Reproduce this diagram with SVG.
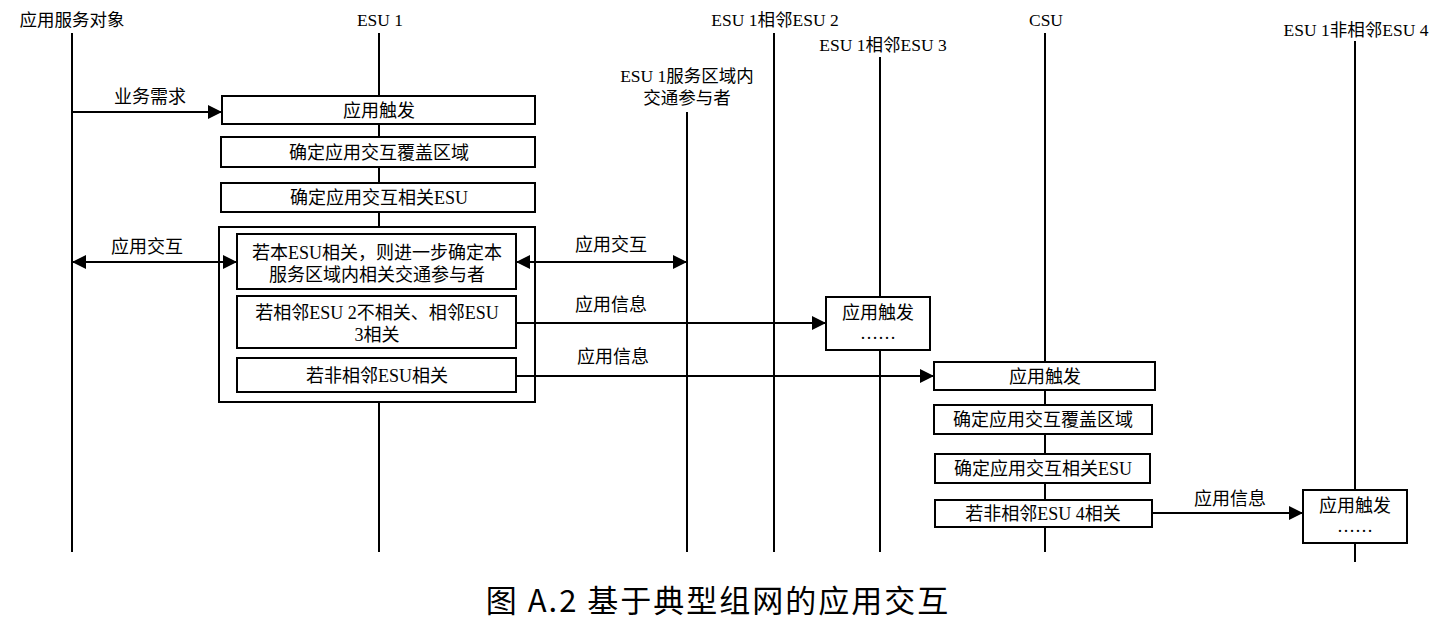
<svg xmlns="http://www.w3.org/2000/svg" width="1437" height="628" viewBox="0 0 1437 628">
<style>
text{font-family:"Liberation Serif","Noto Sans CJK SC",serif;font-size:18px;fill:#000;text-anchor:middle}
.hd{font-size:17.5px}
.box{fill:#fff;stroke:#000;stroke-width:2}
.life{stroke:#000;stroke-width:2;fill:none}
.msg{stroke:#000;stroke-width:2;fill:none}
.title{font-family:"Noto Sans CJK SC","Liberation Sans",sans-serif;font-size:31px;font-weight:normal;letter-spacing:2px}
</style>
<defs>
<marker id="ah" viewBox="0 0 10 10" refX="10" refY="5" markerUnits="userSpaceOnUse" markerWidth="18" markerHeight="14" orient="auto-start-reverse">
<path d="M0,0 L10,5 L0,10 z" fill="#000"/>
</marker>
</defs>
<rect width="1437" height="628" fill="#fff"/>
<g id="lifelines">
<g id="obj"><text class="hd" x="72" y="26">应用服务对象</text><line class="life" x1="72" y1="33" x2="72" y2="552"/></g>
<g id="esu1"><text class="hd" x="380" y="26">ESU 1</text><line class="life" x1="379" y1="33" x2="379" y2="552"/></g>
<g id="part"><text class="hd" x="687" y="82">ESU 1服务区域内</text><text class="hd" x="687" y="104">交通参与者</text><line class="life" x1="687" y1="112" x2="687" y2="552"/></g>
<g id="esu2"><text class="hd" x="775" y="26">ESU 1相邻ESU 2</text><line class="life" x1="774" y1="33" x2="774" y2="552"/></g>
<g id="esu3"><text class="hd" x="883" y="51">ESU 1相邻ESU 3</text><line class="life" x1="880" y1="57" x2="880" y2="552"/></g>
<g id="csu"><text class="hd" x="1046" y="26">CSU</text><line class="life" x1="1045" y1="33" x2="1045" y2="552"/></g>
<g id="esu4"><text class="hd" x="1356" y="36">ESU 1非相邻ESU 4</text><line class="life" x1="1355" y1="41" x2="1355" y2="562"/></g>
</g>
<g id="esu1-steps">
<g id="s1"><rect class="box" x="222" y="96" width="313" height="28"/><text x="379" y="117">应用触发</text></g>
<g id="s2"><rect class="box" x="221" y="137" width="314" height="30"/><text x="379" y="159">确定应用交互覆盖区域</text></g>
<g id="s3"><rect class="box" x="221" y="183" width="314" height="29"/><text x="379" y="204">确定应用交互相关ESU</text></g>
<g id="s4"><rect class="box" x="219" y="227" width="316" height="175"/>
<rect class="box" x="237" y="234" width="279" height="55"/><text x="377" y="259">若本ESU相关，则进一步确定本</text><text x="377" y="281">服务区域内相关交通参与者</text>
<rect class="box" x="237" y="296" width="279" height="52"/><text x="377" y="319">若相邻ESU 2不相关、相邻ESU</text><text x="377" y="341">3相关</text>
<rect class="box" x="237" y="358" width="279" height="34"/><text x="377" y="382">若非相邻ESU相关</text>
</g>
</g>
<g id="esu3-box"><rect class="box" x="826" y="297" width="104" height="53"/><text x="878" y="319">应用触发</text><text x="878" y="339">……</text></g>
<g id="csu-steps">
<g id="c1"><rect class="box" x="934" y="362" width="221" height="28"/><text x="1045" y="383">应用触发</text></g>
<g id="c2"><rect class="box" x="934" y="405" width="218" height="29"/><text x="1043" y="426">确定应用交互覆盖区域</text></g>
<g id="c3"><rect class="box" x="935" y="454" width="215" height="29"/><text x="1043" y="475">确定应用交互相关ESU</text></g>
<g id="c4"><rect class="box" x="935" y="500" width="217" height="27"/><text x="1043" y="520">若非相邻ESU 4相关</text></g>
</g>
<g id="esu4-box"><rect class="box" x="1303" y="490" width="104" height="53"/><text x="1355" y="512">应用触发</text><text x="1355" y="532">……</text></g>
<g id="connectors">
<line class="msg" x1="72" y1="112" x2="222" y2="112" marker-end="url(#ah)"/>
<text x="150" y="103">业务需求</text>
<line class="msg" x1="72" y1="262" x2="237" y2="262" marker-start="url(#ah)" marker-end="url(#ah)"/>
<text x="147" y="253">应用交互</text>
<line class="msg" x1="516" y1="262" x2="687" y2="262" marker-start="url(#ah)" marker-end="url(#ah)"/>
<text x="611" y="251">应用交互</text>
<line class="msg" x1="516" y1="323" x2="826" y2="323" marker-end="url(#ah)"/>
<text x="611" y="311">应用信息</text>
<line class="msg" x1="516" y1="376" x2="934" y2="376" marker-end="url(#ah)"/>
<text x="613" y="363">应用信息</text>
<line class="msg" x1="1152" y1="513" x2="1303" y2="513" marker-end="url(#ah)"/>
<text x="1230" y="505">应用信息</text>
</g>
<text class="title" x="718" y="612">图 A.2 基于典型组网的应用交互</text>
</svg>
